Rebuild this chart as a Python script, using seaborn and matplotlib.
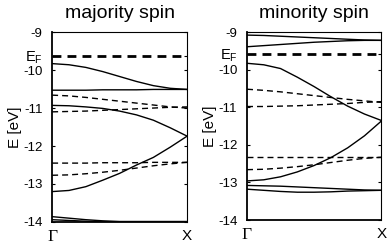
import pandas as pd
import matplotlib
matplotlib.use('Agg')
import matplotlib.pyplot as plt
import seaborn as sns

# k-path from Gamma (0) to X (1), band energies (eV)
k = [0, 0.125, 0.25, 0.375, 0.5, 0.625, 0.75, 0.875, 1.0]

maj_ef = -9.63
maj_solid = [
    [-9.83, -9.86, -9.93, -10.04, -10.17, -10.30, -10.41, -10.48, -10.51],
    [-10.53, -10.53, -10.53, -10.52, -10.52, -10.52, -10.51, -10.51, -10.51],
    [-10.93, -10.94, -10.97, -11.01, -11.08, -11.18, -11.32, -11.52, -11.74],
    [-13.20, -13.17, -13.07, -12.90, -12.72, -12.50, -12.30, -12.03, -11.74],
    [-13.86, -13.90, -13.94, -13.97, -13.99, -13.99, -13.99, -13.99, -13.99],
    [-13.94, -13.96, -13.98, -13.99, -13.99, -13.99, -13.99, -13.99, -13.99],
]
maj_dashed = [
    [-10.66, -10.68, -10.72, -10.77, -10.82, -10.87, -10.92, -10.97, -11.00],
    [-11.10, -11.09, -11.08, -11.06, -11.04, -11.02, -11.00, -10.98, -10.97],
    [-12.45, -12.45, -12.45, -12.44, -12.44, -12.44, -12.43, -12.43, -12.43],
    [-12.77, -12.76, -12.73, -12.69, -12.64, -12.58, -12.52, -12.47, -12.43],
]

min_ef = -9.57
min_solid = [
    [-9.08, -9.09, -9.11, -9.13, -9.15, -9.17, -9.19, -9.21, -9.22],
    [-9.39, -9.36, -9.33, -9.30, -9.27, -9.25, -9.23, -9.22, -9.22],
    [-9.83, -9.87, -9.97, -10.20, -10.45, -10.72, -10.97, -11.18, -11.35],
    [-12.96, -12.93, -12.85, -12.72, -12.55, -12.34, -12.08, -11.76, -11.37],
    [-13.08, -13.09, -13.10, -13.12, -13.14, -13.16, -13.18, -13.20, -13.21],
    [-13.18, -13.21, -13.24, -13.26, -13.26, -13.25, -13.23, -13.22, -13.21],
]
min_dashed = [
    [-10.52, -10.55, -10.59, -10.64, -10.69, -10.74, -10.79, -10.83, -10.87],
    [-10.98, -10.98, -10.97, -10.96, -10.94, -10.92, -10.90, -10.87, -10.85],
    [-12.33, -12.33, -12.33, -12.33, -12.33, -12.33, -12.33, -12.33, -12.33],
    [-12.66, -12.65, -12.62, -12.58, -12.53, -12.47, -12.41, -12.36, -12.33],
]

titles = ['majority spin', 'minority spin']
yticks = [-14, -13, -12, -11, -10, -9]


def to_frame(solid, dashed):
    rows = []
    for i, band in enumerate(solid):
        for kk, e in zip(k, band):
            rows.append({'k': kk, 'E': e, 'band': f's{i}', 'kind': 'solid'})
    for i, band in enumerate(dashed):
        for kk, e in zip(k, band):
            rows.append({'k': kk, 'E': e, 'band': f'd{i}', 'kind': 'dashed'})
    return pd.DataFrame(rows)


sns.set_style('ticks')
plt.rcParams['font.family'] = ['Liberation Sans', 'DejaVu Sans']
plt.rcParams['mathtext.default'] = 'regular'
for key in ['text.color', 'axes.labelcolor', 'xtick.color', 'ytick.color', 'axes.edgecolor']:
    plt.rcParams[key] = 'black'

fig = plt.figure(figsize=(3.89, 2.45), dpi=100)
ax1 = fig.add_axes([0.134, 0.094, 0.347, 0.775])
ax2 = fig.add_axes([0.635, 0.102, 0.345, 0.767])

panels = [(ax1, maj_solid, maj_dashed, maj_ef), (ax2, min_solid, min_dashed, min_ef)]
for (ax, solid, dashed, ef), title in zip(panels, titles):
    df = to_frame(solid, dashed)
    sns.lineplot(data=df, x='k', y='E', units='band', style='kind',
                 dashes={'solid': '', 'dashed': (4.3, 2.9)}, estimator=None,
                 color='black', linewidth=1.0, legend=False, ax=ax)
    ax.axhline(ef, color='black', linewidth=2.0, dashes=(3.2, 2.2))

    ax.set_xlim(0, 1)
    ax.set_ylim(-14, -9)
    ticks = yticks + [ef]
    labels = [str(t) for t in yticks] + ['E$_F$']
    ax.set_yticks(ticks)
    ax.set_yticklabels(labels, fontsize=9.5)
    ax.set_xticks([0, 1])
    ax.set_xticklabels(['Γ', 'X'], fontsize=11)
    gamma = ax.get_xticklabels()[0]
    gamma.set_family(['Liberation Serif', 'DejaVu Serif'])
    gamma.set_fontsize(12.5)
    ax.tick_params(direction='in', length=2.5, width=0.8, right=True, pad=7)
    ax.tick_params(axis='x', length=0, pad=5)
    ef_label = ax.get_yticklabels()[-1]
    ef_label.set_va('center_baseline')
    ef_label.set_fontsize(10.5)
    ax.set_xlabel('')
    ax.set_ylabel('E [eV]', fontsize=11, labelpad=1)
    ax.set_title(title, fontsize=14, pad=10)
    for side in ['left', 'bottom']:
        ax.spines[side].set_linewidth(1.3)
    for side in ['top', 'right']:
        ax.spines[side].set_linewidth(0.8)

fig.savefig('out.png', dpi=100)
